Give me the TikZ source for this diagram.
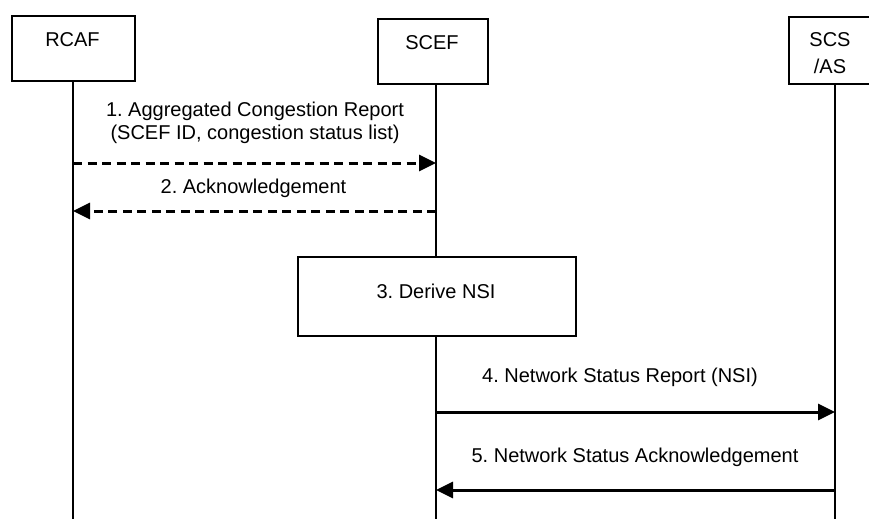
\documentclass[tikz,border=0pt]{standalone}
\usepackage{fontspec}
\setmainfont{Liberation Sans}
\usetikzlibrary{arrows.meta}
\frenchspacing
\begin{document}
\begin{tikzpicture}[x=1pt,y=-1pt,
  entity/.style={draw,line width=1.8pt,fill=white,inner sep=0pt},
  lifeline/.style={line width=2pt},
  msg/.style={line width=3pt,-{Triangle[length=17pt,width=16pt]}},
  dmsg/.style={msg,dash pattern=on 9pt off 5.5pt},
  lbl/.style={align=center,inner sep=0pt,anchor=base,font=\fontsize{20}{22.5}\selectfont}]
\useasboundingbox (0,0) rectangle (869,519);
% entities
\node[entity,minimum width=123pt,minimum height=65pt,anchor=north west] (rcaf) at (11,15) {};
\node[lbl] (rcafl) at (72.5,46) {RCAF};
\node[entity,minimum width=110pt,minimum height=65pt,anchor=north west] (scef) at (377,18) {};
\node[lbl] (scefl) at (432,49) {SCEF};
\node[entity,minimum width=90pt,minimum height=67pt,anchor=north west] (scs) at (788,16) {};
\node[lbl,font=\fontsize{20}{26}\selectfont] (scsl) at (830,73) {SCS\\/AS};
\node[entity,minimum width=278pt,minimum height=79pt,anchor=north west] (derive) at (297,256) {};
\node[lbl] (derivel) at (436,298) {3. Derive NSI};
% lifeline points
\coordinate (rtop) at (73,80);
\coordinate (rbot) at (73,519);
\coordinate (stop) at (436,83);
\coordinate (sdtop) at (436,256);
\coordinate (sdbot) at (436,335);
\coordinate (sbot) at (436,519);
\coordinate (atop) at (835,83);
\coordinate (abot) at (835,519);
\draw[lifeline] (rtop) -- (rbot);
\draw[lifeline] (stop) -- (sdtop);
\draw[lifeline] (sdbot) -- (sbot);
\draw[lifeline] (atop) -- (abot);
% message points
\coordinate (r1) at (73,163);  \coordinate (s1) at (436,163);
\coordinate (r2) at (73,211);  \coordinate (s2) at (436,211);
\coordinate (s4) at (436,412); \coordinate (a4) at (835,412);
\coordinate (s5) at (436,490); \coordinate (a5) at (835,490);
\draw[dmsg] (r1) -- (s1);
\draw[dmsg] (s2) -- (r2);
\draw[msg] (s4) -- (a4);
\draw[msg] (a5) -- (s5);
% labels
\node[lbl] (l1) at (255,139) {1. Aggregated Congestion Report\\(SCEF ID, congestion status list)};
\node[lbl] (l2) at (253.5,193) {2. Acknowledgement};
\node[lbl] (l4) at (620,382) {4. Network Status Report (NSI)};
\node[lbl] (l5) at (635,462) {5. Network Status Acknowledgement};
\end{tikzpicture}
\end{document}
